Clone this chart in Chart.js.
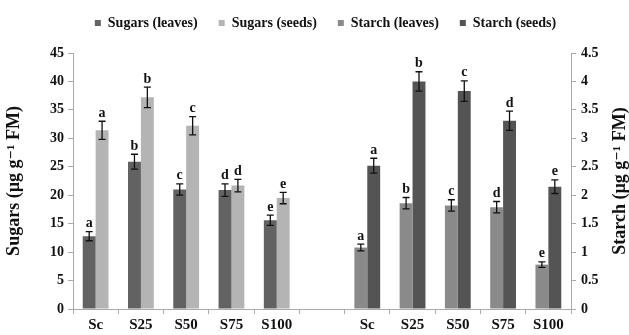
<!DOCTYPE html>
<html>
<head>
<meta charset="utf-8">
<script src="https://cdn.jsdelivr.net/npm/chart.js@4"></script>
<style>
  html, body { margin: 0; padding: 0; background: #fff; }
</style>
</head>
<body>
<canvas id="bar-chart" width="629" height="335"></canvas>
<script>
var treatments = ["Sc", "S25", "S50", "S75", "S100"];
var letters = ["a", "b", "c", "d", "e"];

var sugarsLeaves = [12.8, 25.9, 21.0, 20.9, 15.6];
var sugarsLeavesErr = [0.8, 1.3, 1.0, 1.1, 0.9];
var sugarsSeeds = [31.4, 37.2, 32.2, 21.7, 19.5];
var sugarsSeedsErr = [1.6, 1.8, 1.6, 1.1, 1.0];

var starchLeaves = [1.08, 1.86, 1.82, 1.79, 0.78];
var starchLeavesErr = [0.06, 0.1, 0.1, 0.1, 0.05];
var starchSeeds = [2.52, 4.0, 3.83, 3.31, 2.15];
var starchSeedsErr = [0.13, 0.17, 0.18, 0.17, 0.12];

var serif = "'Liberation Serif', 'Times New Roman', 'DejaVu Serif', serif";
var blank = [null, null, null, null, null, null];

// left half = sugars, one empty slot, right half = starch
function left(arr) { return arr.concat(blank); }
function right(arr) { return blank.concat(arr); }

// legend a bit taller (pushes plot down) and nudged right
var legendFit = {
  id: 'legendFit',
  beforeLayout: function(chart) {
    var lg = chart.legend;
    if (!lg || lg._patched) return;
    var fit = lg.fit;
    lg.fit = function() { fit.call(lg); lg.height = 53; };
    lg._patched = true;
  },
  afterLayout: function(chart) {
    var lg = chart.legend;
    lg.left += 11; lg.right += 11;
    lg.top -= 5; lg.bottom -= 5;
  }
};

var errorBars = {
  id: 'errorBars',
  afterDatasetsDraw: function(chart) {
    var ctx = chart.ctx;
    ctx.save();
    chart.data.datasets.forEach(function(ds, i) {
      var meta = chart.getDatasetMeta(i);
      var scale = chart.scales[ds.yAxisID];
      meta.data.forEach(function(bar, j) {
        var v = ds.data[j];
        if (v === null) return;
        var e = ds.errors[j];
        var top = scale.getPixelForValue(v + e);
        var bot = scale.getPixelForValue(v - e);
        ctx.strokeStyle = '#111';
        ctx.lineWidth = 1.3;
        ctx.beginPath();
        ctx.moveTo(bar.x, top); ctx.lineTo(bar.x, bot);
        ctx.moveTo(bar.x - 3.5, top); ctx.lineTo(bar.x + 3.5, top);
        ctx.moveTo(bar.x - 3.5, bot); ctx.lineTo(bar.x + 3.5, bot);
        ctx.stroke();
        ctx.fillStyle = '#111';
        ctx.font = 'bold 14px ' + serif;
        ctx.textAlign = 'center';
        ctx.textBaseline = 'bottom';
        ctx.fillText(ds.letters[j], bar.x, top - 1);
      });
    });
    ctx.restore();
  },
  afterDraw: function(chart) {
    // right axis title reads bottom to top like the left one
    var ctx = chart.ctx;
    var a = chart.chartArea;
    ctx.save();
    ctx.translate(620, (a.top + a.bottom) / 2);
    ctx.rotate(-Math.PI / 2);
    ctx.fillStyle = '#111';
    ctx.font = 'bold 18px ' + serif;
    ctx.textAlign = 'center';
    ctx.textBaseline = 'middle';
    ctx.fillText('Starch (\u00b5g g\u207b\u00b9 FM)', 0, 0);
    ctx.restore();
  }
};

new Chart(document.getElementById("bar-chart"), {
  type: 'bar',
  data: {
    labels: treatments.concat([""], treatments),
    datasets: [
      {
        label: "Sugars (leaves)",
        backgroundColor: "#626262",
        data: left(sugarsLeaves),
        errors: left(sugarsLeavesErr),
        letters: left(letters),
        yAxisID: 'y'
      },
      {
        label: "Sugars (seeds)",
        backgroundColor: "#b4b4b4",
        data: left(sugarsSeeds),
        errors: left(sugarsSeedsErr),
        letters: left(letters),
        yAxisID: 'y'
      },
      {
        label: "Starch (leaves)",
        backgroundColor: "#8a8a8a",
        data: right(starchLeaves),
        errors: right(starchLeavesErr),
        letters: right(letters),
        yAxisID: 'y1'
      },
      {
        label: "Starch (seeds)",
        backgroundColor: "#545454",
        data: right(starchSeeds),
        errors: right(starchSeedsErr),
        letters: right(letters),
        yAxisID: 'y1'
      }
    ]
  },
  options: {
    responsive: false,
    animation: false,
    devicePixelRatio: 1,
    datasets: {
      bar: { skipNull: true, categoryPercentage: 0.57, barPercentage: 1.0 }
    },
    plugins: {
      legend: {
        labels: {
          boxWidth: 6,
          boxHeight: 6,
          padding: 21,
          color: '#111',
          font: { family: serif, size: 14, weight: 'bold' }
        }
      },
      tooltip: { enabled: false }
    },
    scales: {
      x: {
        grid: { display: true, drawOnChartArea: false, tickLength: 5, color: '#aaa' },
        border: { color: '#aaa' },
        ticks: { color: '#111', font: { family: serif, size: 15, weight: 'bold' }, padding: 2 },
        afterFit: function(scale) { scale.height = 26; }
      },
      y: {
        position: 'left',
        min: 0,
        max: 45,
        ticks: { stepSize: 5, color: '#111', font: { family: serif, size: 14, weight: 'bold' }, padding: 4 },
        grid: { display: true, drawOnChartArea: false, tickLength: 5, color: '#aaa' },
        border: { color: '#aaa' },
        title: {
          display: true,
          text: 'Sugars (\u00b5g g\u207b\u00b9 FM)',
          color: '#111',
          font: { family: serif, size: 18, weight: 'bold' },
          padding: { top: 4, bottom: 0 }
        },
        afterFit: function(scale) { scale.width = 73; }
      },
      y1: {
        position: 'right',
        min: 0,
        max: 4.5,
        ticks: {
          stepSize: 0.5,
          color: '#111',
          font: { family: serif, size: 14, weight: 'bold' },
          padding: 5,
          callback: function(v) { return String(Math.round(v * 10) / 10); }
        },
        grid: { display: true, drawOnChartArea: false, tickLength: 5, color: '#aaa' },
        border: { color: '#aaa' },
        afterFit: function(scale) { scale.width = 58; }
      }
    }
  },
  plugins: [legendFit, errorBars]
});
</script>
</body>
</html>
